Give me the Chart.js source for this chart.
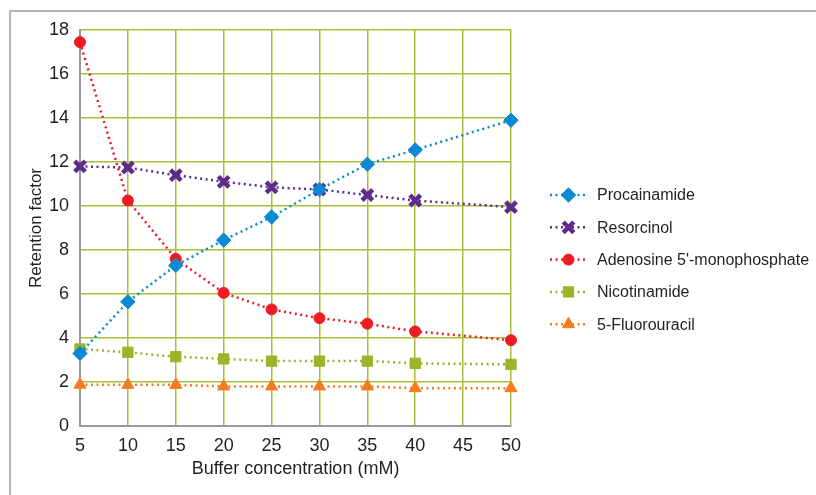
<!DOCTYPE html>
<html>
<head>
<meta charset="utf-8">
<script src="https://cdn.jsdelivr.net/npm/chart.js@4"></script>
<style>
  html, body { margin: 0; padding: 0; background: #fff; }
  #wrap { position: relative; width: 816px; height: 495px; overflow: hidden; }
  #frame { position: absolute; left: 9px; top: 10px; width: 900px; height: 600px;
           border-left: 2px solid #b5b5b5; border-top: 2px solid #b5b5b5; }
  canvas { position: absolute; left: 0; top: 0; }
</style>
</head>
<body>
<div id="wrap">
  <div id="frame"></div>
  <canvas id="chart" width="816" height="495"></canvas>
</div>
<script>
const concentrations = ["5", "10", "15", "20", "25", "30", "35", "40", "45", "50"];

// no measurement at 45 mM
const procainamide = [3.3, 5.65, 7.3, 8.45, 9.5, 10.75, 11.9, 12.55, null, 13.9];
const resorcinol = [11.8, 11.75, 11.4, 11.1, 10.85, 10.75, 10.5, 10.25, null, 9.95];
const adenosine = [17.45, 10.25, 7.6, 6.05, 5.3, 4.9, 4.65, 4.3, null, 3.9];
const nicotinamide = [3.5, 3.35, 3.15, 3.05, 2.95, 2.95, 2.95, 2.85, null, 2.8];
const fluorouracil = [1.88, 1.87, 1.87, 1.8, 1.8, 1.8, 1.8, 1.72, null, 1.72];

const seriesNames = ["Procainamide", "Resorcinol", "Adenosine 5'-monophosphate", "Nicotinamide", "5-Fluorouracil"];

const FONT = "'Liberation Sans', Arial, sans-serif";

function series(label, data, color, style, radius, bw) {
    return {
        label: label,
        data: data,
        borderColor: color,
        backgroundColor: color,
        borderWidth: 2.5,
        borderDash: [2, 3.5],
        pointStyle: style,
        pointRadius: radius,
        pointHoverRadius: radius,
        pointBorderWidth: bw,
        pointBorderColor: color,
        pointBackgroundColor: color,
        spanGaps: true,
        tension: 0
    };
}

/* legend: dotted line with marker in the middle, drawn beside the plot */
const sideLegend = {
    id: "sideLegend",
    afterDraw(chart) {
        const ctx = chart.ctx;
        const x0 = 550, x1 = 587, tx = 597;
        let y = 195;
        chart.data.datasets.forEach(ds => {
            ctx.save();
            ctx.strokeStyle = ds.borderColor;
            ctx.lineWidth = 2.5;
            ctx.setLineDash([2, 3.5]);
            ctx.beginPath();
            ctx.moveTo(x0, y);
            ctx.lineTo(x1, y);
            ctx.stroke();
            ctx.setLineDash([]);
            ctx.fillStyle = ds.backgroundColor;
            ctx.strokeStyle = ds.borderColor;
            ctx.lineWidth = ds.pointBorderWidth;
            Chart.helpers.drawPoint(ctx, {
                pointStyle: ds.pointStyle,
                radius: ds.pointRadius,
                borderWidth: ds.pointBorderWidth,
                rotation: 0
            }, (x0 + x1) / 2, y);
            ctx.fillStyle = "#231f20";
            ctx.font = "16px " + FONT;
            ctx.textBaseline = "middle";
            ctx.textAlign = "left";
            ctx.fillText(ds.label, tx, y + 1);
            ctx.restore();
            y += 32.3;
        });
    }
};

new Chart(document.getElementById("chart"), {
    type: "line",
    data: {
        labels: concentrations,
        datasets: [
            series(seriesNames[0], procainamide, "#0a8ad4", "rectRot", 7.2, 1),
            series(seriesNames[1], resorcinol, "#5b2c8c", "crossRot", 7.5, 4.5),
            series(seriesNames[2], adenosine, "#ec1c24", "circle", 5.5, 1),
            series(seriesNames[3], nicotinamide, "#9bb52a", "rect", 7.3, 1),
            series(seriesNames[4], fluorouracil, "#f47c20", "triangle", 7, 1)
        ]
    },
    options: {
        responsive: false,
        animation: false,
        layout: { padding: { left: 22, top: 30, right: 305, bottom: 11 } },
        plugins: {
            legend: { display: false },
            tooltip: { enabled: false }
        },
        scales: {
            x: {
                offset: false,
                grid: { color: "#a9bf3c", lineWidth: 1.5, drawTicks: false },
                border: { color: "#9a9a9a", width: 2 },
                ticks: { color: "#231f20", font: { family: FONT, size: 18 }, padding: 9, maxRotation: 0 },
                title: { display: true, text: "Buffer concentration (mM)", color: "#231f20",
                         font: { family: FONT, size: 18 }, padding: { top: 4 } },
                afterFit(scale) { scale.height = 58; }
            },
            y: {
                min: 0,
                max: 18,
                grid: { color: "#a9bf3c", lineWidth: 1.5, drawTicks: false },
                border: { color: "#9a9a9a", width: 2 },
                ticks: { stepSize: 2, color: "#231f20", font: { family: FONT, size: 18 }, padding: 11 },
                title: { display: true, text: "Retention factor", color: "#231f20",
                         font: { family: FONT, size: 17 }, padding: { bottom: 0 } },
                afterFit(scale) { scale.width = 58; }
            }
        }
    },
    plugins: [sideLegend]
});
</script>
</body>
</html>
